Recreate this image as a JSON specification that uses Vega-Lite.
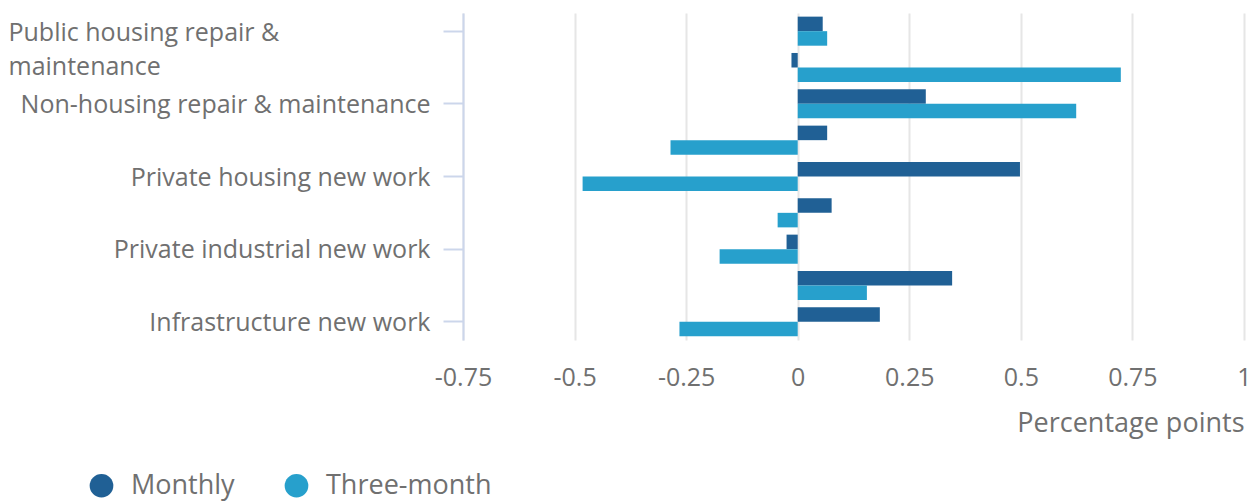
{
  "$schema": "https://vega.github.io/schema/vega-lite/v6.json",
  "autosize": {"type": "none"},
  "padding": {"left": 463, "top": 13, "right": 12, "bottom": 161},
  "width": 781,
  "height": 327,
  "background": "white",
  "config": {
    "view": {"stroke": null},
    "font": "Open Sans",
    "text": {"font": "Open Sans"}
  },
  "data": {
    "values": [
      {"category": "Public housing repair & maintenance", "series": "Monthly", "value": 0.056},
      {"category": "Public housing repair & maintenance", "series": "Three-month", "value": 0.066},
      {"category": "Private housing repair & maintenance", "series": "Monthly", "value": -0.014},
      {"category": "Private housing repair & maintenance", "series": "Three-month", "value": 0.724},
      {"category": "Non-housing repair & maintenance", "series": "Monthly", "value": 0.287},
      {"category": "Non-housing repair & maintenance", "series": "Three-month", "value": 0.624},
      {"category": "Private commercial new work", "series": "Monthly", "value": 0.066},
      {"category": "Private commercial new work", "series": "Three-month", "value": -0.285},
      {"category": "Private housing new work", "series": "Monthly", "value": 0.498},
      {"category": "Private housing new work", "series": "Three-month", "value": -0.482},
      {"category": "Public other new work", "series": "Monthly", "value": 0.076},
      {"category": "Public other new work", "series": "Three-month", "value": -0.045},
      {"category": "Private industrial new work", "series": "Monthly", "value": -0.025},
      {"category": "Private industrial new work", "series": "Three-month", "value": -0.175},
      {"category": "Public housing new work", "series": "Monthly", "value": 0.346},
      {"category": "Public housing new work", "series": "Three-month", "value": 0.155},
      {"category": "Infrastructure new work", "series": "Monthly", "value": 0.184},
      {"category": "Infrastructure new work", "series": "Three-month", "value": -0.265}
    ]
  },
  "mark": {"type": "bar"},
  "encoding": {
    "y": {
      "field": "category",
      "type": "nominal",
      "sort": [
        "Public housing repair & maintenance",
        "Private housing repair & maintenance",
        "Non-housing repair & maintenance",
        "Private commercial new work",
        "Private housing new work",
        "Public other new work",
        "Private industrial new work",
        "Public housing new work",
        "Infrastructure new work"
      ],
      "scale": {"paddingInner": 0.2, "paddingOuter": 0.1},
      "axis": {
        "title": null,
        "values": [
          "Public housing repair & maintenance",
          "Non-housing repair & maintenance",
          "Private housing new work",
          "Private industrial new work",
          "Infrastructure new work"
        ],
        "labelExpr": "datum.value == 'Public housing repair & maintenance' ? ['Public housing repair &', 'maintenance'] : datum.value",
        "labelLineHeight": 34,
        "labelAlign": {"condition": {"test": "datum.value == 'Public housing repair & maintenance'", "value": "left"}, "value": "right"},
        "labelPadding": {"condition": {"test": "datum.value == 'Public housing repair & maintenance'", "value": 435}, "value": 13},
        "labelOffset": {"condition": {"test": "datum.value == 'Public housing repair & maintenance'", "value": 2}, "value": 1},
        "labelFontSize": 25,
        "labelColor": "#707070",
        "labelLimit": 1000,
        "domain": true,
        "domainColor": "#ccd6eb",
        "domainWidth": 2,
        "ticks": true,
        "tickColor": "#ccd6eb",
        "tickSize": 20,
        "tickWidth": 2,
        "grid": false
      }
    },
    "yOffset": {"field": "series", "type": "nominal", "sort": ["Monthly", "Three-month"]},
    "x": {
      "field": "value",
      "type": "quantitative",
      "scale": {"domain": [-0.75, 1], "nice": false, "zero": false},
      "axis": {
        "values": [-0.75, -0.5, -0.25, 0, 0.25, 0.5, 0.75, 1],
        "labelExpr": "'' + datum.value",
        "title": "Percentage points",
        "titleAnchor": "end",
        "titleFontSize": 27,
        "titleFontWeight": "normal",
        "titleColor": "#707070",
        "titlePadding": 20,
        "labelFontSize": 25,
        "labelColor": "#707070",
        "labelPadding": 25,
        "labelFlush": false,
        "domain": false,
        "ticks": false,
        "tickSize": 0,
        "grid": true,
        "gridColor": "#e6e6e6",
        "gridWidth": 2
      }
    },
    "color": {
      "field": "series",
      "type": "nominal",
      "sort": ["Monthly", "Three-month"],
      "scale": {"domain": ["Monthly", "Three-month"], "range": ["#206095", "#27a0cc"]},
      "legend": {
        "title": null,
        "orient": "none",
        "legendX": -375,
        "legendY": 459,
        "direction": "horizontal",
        "symbolType": "circle",
        "symbolSize": 560,
        "symbolStrokeWidth": 0,
        "labelFontSize": 27,
        "labelColor": "#707070",
        "labelLimit": 1000,
        "labelOffset": 16,
        "columnPadding": 48,
        "padding": 0
      }
    }
  }
}
